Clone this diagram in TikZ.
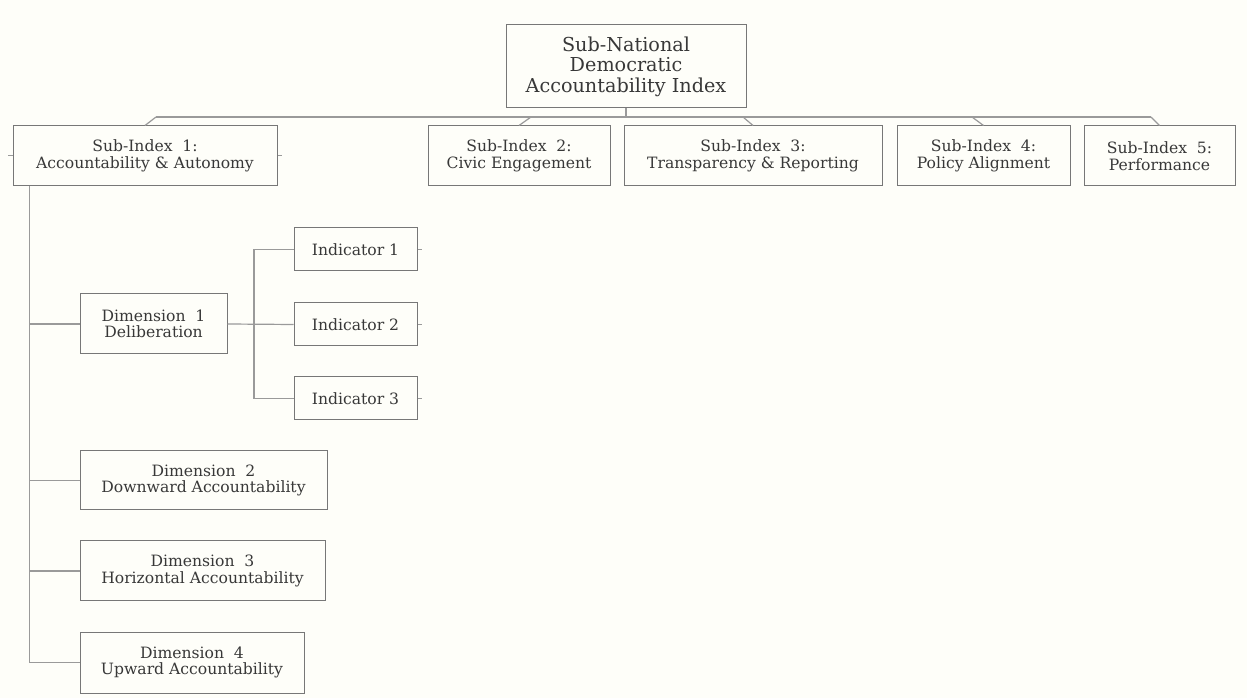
\documentclass[tikz,border=0pt]{standalone}
\usepackage{fontspec}
\setmainfont{DejaVu Serif}
\usetikzlibrary{calc}
\definecolor{bgc}{HTML}{FEFEF9}
\definecolor{txt}{HTML}{383838}
\definecolor{edge}{HTML}{777777}
\definecolor{wire}{HTML}{9A9A9A}
\begin{document}
\begin{tikzpicture}[x=0.75pt,y=-0.75pt,
  box/.style={draw=edge,line width=0.75pt,fill=bgc,align=center,inner sep=0pt,text=txt,
     font=\fontsize{11.7pt}{12.3pt}\selectfont},
  rootbox/.style={box,font=\fontsize{14.4pt}{15.3pt}\selectfont},
  wirel/.style={draw=wire,line width=0.9pt},
  stub/.style={draw=wire,line width=0.75pt}]
\fill[bgc] (0,0) rectangle (1247,698);
\useasboundingbox (0,0) rectangle (1247,698);

% root
\node[rootbox,minimum width=240*0.75pt,minimum height=83*0.75pt] (root) at (626,66.5)
  {\raisebox{0pt}[\height][\depth]{}Sub-National\\Democratic\\Accountability Index};

% sub-indices
\node[box,minimum width=264*0.75pt,minimum height=60*0.75pt] (s1) at (145,156) {Sub-Index\ \ 1:\\Accountability \& Autonomy};
\node[box,minimum width=182*0.75pt,minimum height=60*0.75pt] (s2) at (519,156) {Sub-Index\ \ 2:\\Civic Engagement};
\node[box,minimum width=258*0.75pt,minimum height=60*0.75pt] (s3) at (753,156) {Sub-Index\ \ 3:\\Transparency \& Reporting};
\node[box,minimum width=173*0.75pt,minimum height=60*0.75pt] (s4) at (983.5,156) {Sub-Index\ \ 4:\\Policy Alignment};
\node[box,minimum width=151*0.75pt,minimum height=60*0.75pt] (s5) at (1159.5,156) {Sub-Index\ \ 5:\\Performance};

% dimensions
\node[box,minimum width=147*0.75pt,minimum height=60*0.75pt] (d1) at (153.5,324) {Dimension\ \ 1\\Deliberation};
\node[box,minimum width=247*0.75pt,minimum height=59*0.75pt] (d2) at (203.5,480.5) {Dimension\ \ 2\\Downward Accountability};
\node[box,minimum width=245*0.75pt,minimum height=60*0.75pt] (d3) at (202.5,571) {Dimension\ \ 3\\Horizontal Accountability};
\node[box,minimum width=224*0.75pt,minimum height=61*0.75pt] (d4) at (192,662.5) {Dimension\ \ 4\\Upward Accountability};

% indicators
\node[box,minimum width=123*0.75pt,minimum height=43*0.75pt] (i1) at (355.5,249.5) {Indicator 1};
\node[box,minimum width=123*0.75pt,minimum height=43*0.75pt] (i2) at (355.5,324.5) {Indicator 2};
\node[box,minimum width=123*0.75pt,minimum height=43*0.75pt] (i3) at (355.5,398.5) {Indicator 3};

% bus coordinates
\coordinate (b1) at (156,117);
\coordinate (b2) at (531,117);
\coordinate (b3) at (743,117);
\coordinate (b4) at (972,117);
\coordinate (b5) at (1151,117);

\draw[wirel] (root.south) -- (root.south |- b1);
\draw[wirel] (b1) -- (b5);
\draw[wirel] (b1) -- (s1.north);
\draw[wirel] (b2) -- (s2.north);
\draw[wirel] (b3) -- (s3.north);
\draw[wirel] (b4) -- (s4.north);
\draw[wirel] (b5) -- (s5.north);

% trunk
\coordinate (t0) at ($(s1.south west)+(17,0)$);
\draw[wirel] (t0) |- (d4.west);
\draw[wirel] (t0 |- d1.west) -- (d1.west);
\draw[wirel] (t0 |- d2.west) -- (d2.west);
\draw[wirel] (t0 |- d3.west) -- (d3.west);

% indicators
\coordinate (k) at ($(d1.east)!0.4!(i2.west)$);
\draw[wirel] (d1.east) -- (i2.west);
\draw[wirel] (i1.west) -| (k) |- (i3.west);

% small stubs
\draw[stub] (s1.west) -- ++(-5,0);
\draw[stub] (s1.east) -- ++(4,0);
\draw[stub] (i1.east) -- ++(4,0);
\draw[stub] (i2.east) -- ++(4,0);
\draw[stub] (i3.east) -- ++(4,0);
\end{tikzpicture}
\end{document}
